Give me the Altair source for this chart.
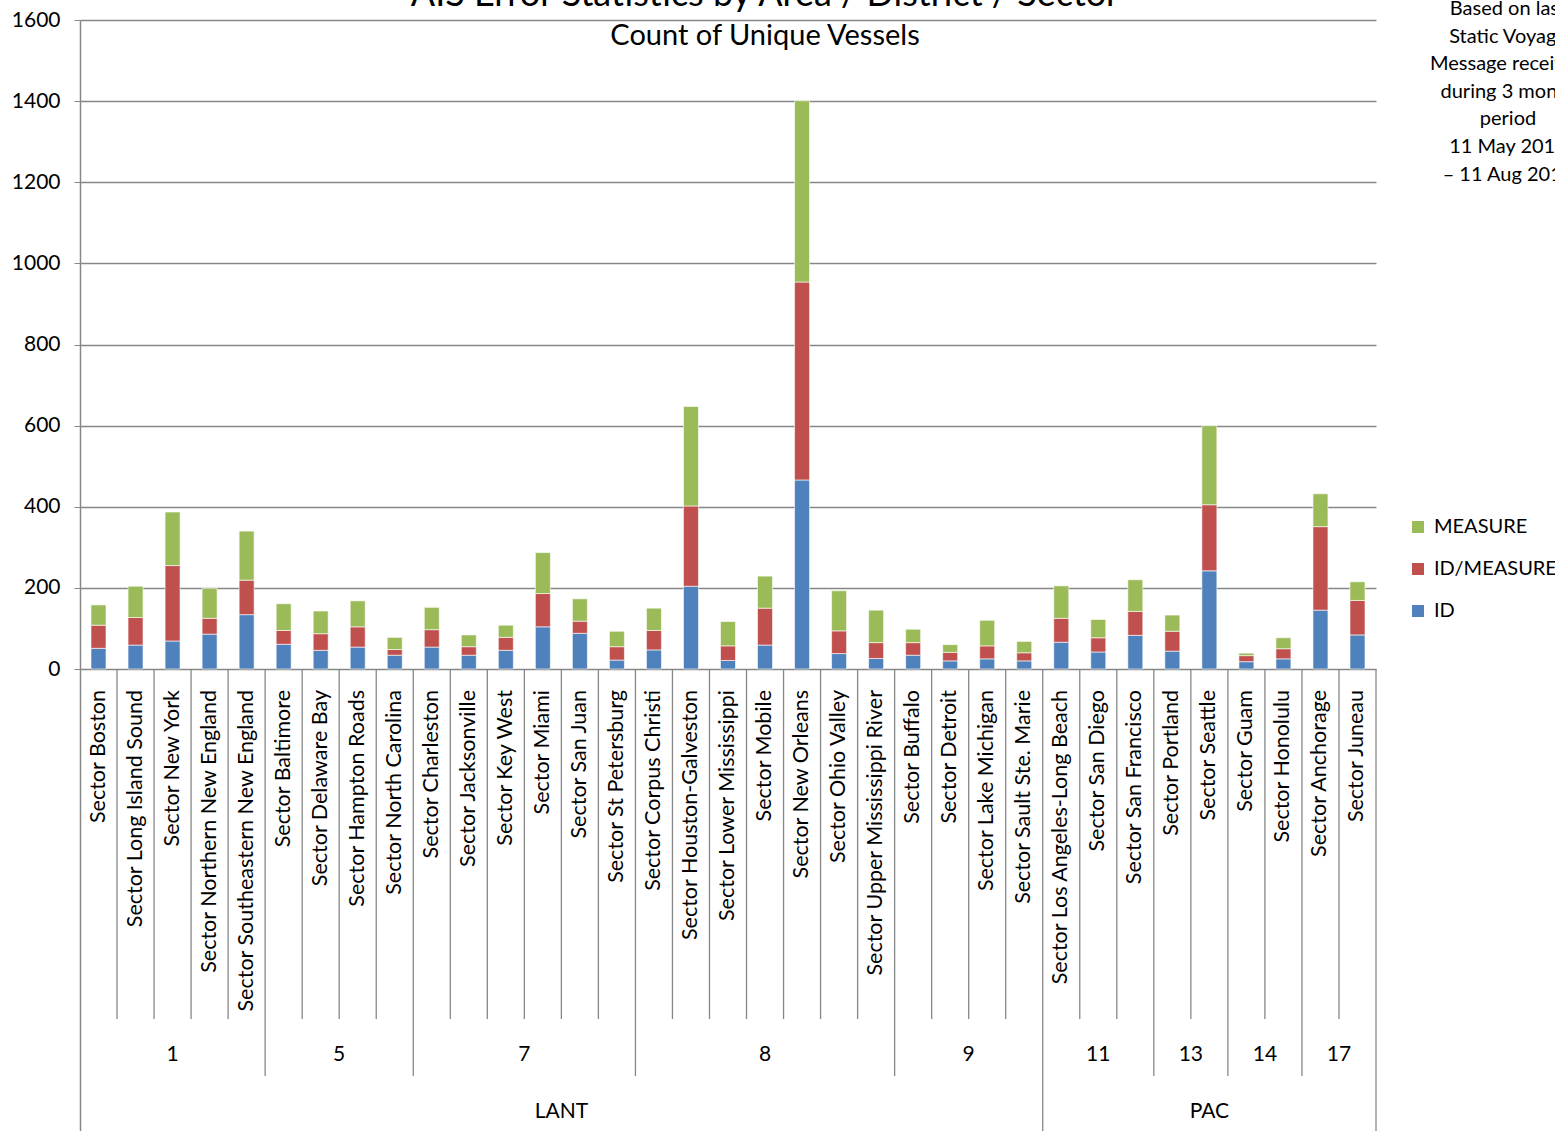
import altair as alt
import pandas as pd

# ---------------- data ----------------
sectors = [
    "Sector Boston", "Sector Long Island Sound", "Sector New York",
    "Sector Northern New England", "Sector Southeastern New England",
    "Sector Baltimore", "Sector Delaware Bay", "Sector Hampton Roads",
    "Sector North Carolina",
    "Sector Charleston", "Sector Jacksonville", "Sector Key West",
    "Sector Miami", "Sector San Juan", "Sector St Petersburg",
    "Sector Corpus Christi", "Sector Houston-Galveston",
    "Sector Lower Mississippi", "Sector Mobile", "Sector New Orleans",
    "Sector Ohio Valley", "Sector Upper Mississippi River",
    "Sector Buffalo", "Sector Detroit", "Sector Lake Michigan",
    "Sector Sault Ste. Marie",
    "Sector Los Angeles-Long Beach", "Sector San Diego", "Sector San Francisco",
    "Sector Portland", "Sector Seattle",
    "Sector Guam", "Sector Honolulu",
    "Sector Anchorage", "Sector Juneau",
]
id_vals = [51, 59, 69, 86, 134, 61, 46, 54, 34, 54, 34, 46, 104, 88, 22,
           47, 204, 21, 59, 466, 38, 26, 34, 20, 25, 20,
           66, 42, 83, 44, 242, 18, 25, 145, 84]
idm_vals = [57, 68, 186, 39, 85, 34, 41, 50, 14, 43, 21, 32, 82, 30, 33,
            48, 198, 36, 91, 488, 56, 39, 31, 21, 32, 20,
            59, 35, 59, 49, 163, 15, 25, 206, 85]
meas_vals = [50, 77, 132, 74, 121, 66, 56, 64, 30, 55, 29, 30, 101, 55, 38,
             55, 245, 60, 79, 447, 99, 80, 33, 19, 63, 28,
             80, 45, 78, 40, 195, 6, 27, 81, 46]

district_names = ["1", "5", "7", "8", "9", "11", "13", "14", "17"]
district_sizes = [5, 4, 6, 7, 4, 3, 2, 2, 2]
area_names = ["LANT", "PAC"]
area_sizes = [26, 9]

series = ["MEASURE", "ID/MEASURE", "ID"]
colors = ["#9BBB59", "#C0504D", "#4F81BD"]

TITLE = "AIS Error Statistics by Area / District / Sector"
SUBTITLE = "Count of Unique Vessels"
NOTE = "Based on last\nStatic Voyage\nMessage received\nduring 3 month\nperiod\n11 May 2010\n\u2013 11 Aug 2010"

# ---------------- tables ----------------
rows = []
for i, s in enumerate(sectors):
    rows.append({"Sector": s, "Type": "ID", "ord": 0, "Count": id_vals[i]})
    rows.append({"Sector": s, "Type": "ID/MEASURE", "ord": 1, "Count": idm_vals[i]})
    rows.append({"Sector": s, "Type": "MEASURE", "ord": 2, "Count": meas_vals[i]})
bars_df = pd.DataFrame(rows)


def starts(sizes):
    out, acc = [], 0
    for n in sizes:
        out.append(acc)
        acc += n
    return out


d_starts = starts(district_sizes)
a_starts = starts(area_sizes)
area_bounds = set(a_starts[1:])
district_bounds = set(d_starts[1:]) - area_bounds

sep_rows = []
for i in range(1, len(sectors)):
    lvl = "area" if i in area_bounds else ("district" if i in district_bounds else "sector")
    sep_rows.append({"Sector": sectors[i], "level": lvl})
sep_df = pd.DataFrame(sep_rows)
edge_df = pd.DataFrame({"Sector": [sectors[-1]]})


def label_tables(names, sizes):
    st = starts(sizes)
    odd, even = [], []
    for n, sz, s0 in zip(names, sizes, st):
        if sz % 2 == 1:
            odd.append({"Sector": sectors[s0 + sz // 2], "lab": n})
        else:
            even.append({"Sector": sectors[s0 + sz // 2], "lab": n})
    return pd.DataFrame(odd), pd.DataFrame(even)


d_odd, d_even = label_tables(district_names, district_sizes)
a_odd, a_even = label_tables(area_names, area_sizes)

# ---------------- geometry / style ----------------
W, H = 1296, 1111
ZERO_PX = 649
YMAX = 1600
YLOW = -(H - ZERO_PX) * YMAX / ZERO_PX
FONT = "Lato"
GRID = "#878787"

x_scale = alt.Scale(domain=sectors, paddingInner=0, paddingOuter=0)


def X(**kw):
    return alt.X("Sector:N", scale=x_scale, axis=None, sort=None, **kw)


bars = alt.Chart(bars_df).mark_bar(size=15, stroke="white", strokeWidth=0.6).encode(
    x=X(),
    y=alt.Y("Count:Q", stack="zero",
            scale=alt.Scale(domain=[YLOW, YMAX], nice=False, zero=False),
            axis=alt.Axis(values=list(range(0, 1601, 200)), title=None, format="d",
                          labelFont=FONT, labelFontSize=21, labelColor="black",
                          labelPadding=14, tickSize=6, tickColor=GRID,
                          domainColor=GRID, domainWidth=1.5,
                          gridColor=GRID, gridWidth=1.5)),
    color=alt.Color("Type:N", scale=alt.Scale(domain=series, range=colors),
                    legend=alt.Legend(title=None, orient="none", legendX=1328, legendY=497,
                                      symbolType="square", symbolSize=144,
                                      symbolStrokeWidth=0, labelFont=FONT,
                                      labelFontSize=20, labelColor="black",
                                      rowPadding=22, labelOffset=6, padding=0,
                                      offset=0)),
    order=alt.Order("ord:Q", sort="ascending"),
)


def seps(level, bottom):
    return alt.Chart(sep_df).transform_filter(alt.datum.level == level).mark_rule(
        color=GRID, strokeWidth=1.3).encode(
        x=X(bandPosition=0), y=alt.value(ZERO_PX), y2=alt.value(bottom))


sep_s = seps("sector", 999)
sep_d = seps("district", 1056)
sep_a = seps("area", H)
edge = alt.Chart(edge_df).mark_rule(color=GRID, strokeWidth=1.3).encode(
    x=X(bandPosition=1), y=alt.value(ZERO_PX), y2=alt.value(H))

sector_text = alt.Chart(pd.DataFrame({"Sector": sectors})).mark_text(
    angle=270, align="right", baseline="middle", font=FONT, fontSize=21.5, color="black"
).encode(x=X(), y=alt.value(670), text="Sector:N")


def group_text(df, band, ypx):
    return alt.Chart(df).mark_text(
        align="center", baseline="middle", font=FONT, fontSize=21, color="black"
    ).encode(x=X(bandPosition=band), y=alt.value(ypx), text="lab:N")


dist_txt = group_text(d_odd, 0.5, 1035) + group_text(d_even, 0, 1035)
area_txt = group_text(a_odd, 0.5, 1092) + group_text(a_even, 0, 1092)

title_txt = alt.Chart(pd.DataFrame({"t": [TITLE]})).mark_text(
    align="center", baseline="alphabetic", font=FONT, fontSize=36, color="black"
).encode(text="t:N", x=alt.value(685), y=alt.value(-14))
sub_txt = alt.Chart(pd.DataFrame({"t": [SUBTITLE]})).mark_text(
    align="center", baseline="middle", font=FONT, fontSize=29, color="black"
).encode(text="t:N", x=alt.value(685), y=alt.value(16))
note_txt = alt.Chart(pd.DataFrame({"t": [NOTE]})).mark_text(
    align="center", baseline="alphabetic", font=FONT, fontSize=20, color="black",
    lineBreak="\n", lineHeight=27.6
).encode(text="t:N", x=alt.value(1428), y=alt.value(-5))

chart = alt.layer(
    bars, sep_s, sep_d, sep_a, edge, sector_text, dist_txt, area_txt,
    title_txt, sub_txt, note_txt
).properties(
    width=W, height=H,
    autosize=alt.AutoSizeParams(type="none"),
    padding={"left": 80, "top": 20, "right": 179, "bottom": 0},
).configure_view(stroke=None)

chart.save("out.html", embed_options={"renderer": "svg", "actions": False})
